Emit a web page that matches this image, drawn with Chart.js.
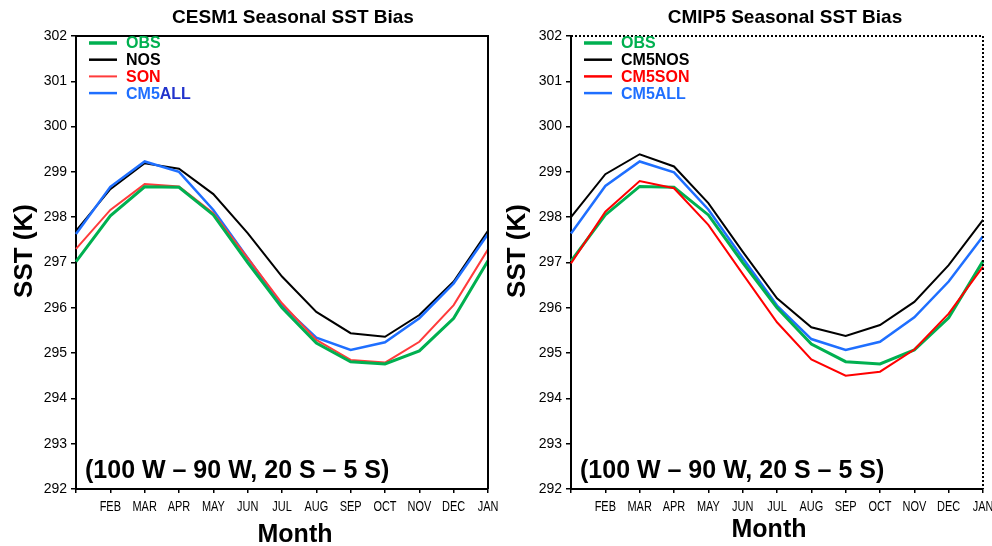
<!DOCTYPE html>
<html>
<head>
<meta charset="utf-8">
<script src="https://cdn.jsdelivr.net/npm/chart.js@4/dist/chart.umd.min.js"></script>
<style>
  html, body { margin: 0; padding: 0; background: #fff; }
  #wrap { position: relative; width: 992px; height: 546px; overflow: hidden; }
  .panel { position: absolute; top: 0; height: 546px; }
  #p1 { left: 0; width: 520px; }
  #p2 { left: 496px; width: 496px; }
</style>
</head>
<body>
<div id="wrap">
  <div class="panel" id="p1"><canvas id="c1" width="520" height="546"></canvas></div>
  <div class="panel" id="p2"><canvas id="c2" width="496" height="546"></canvas></div>
</div>
<script>
// ---- data ----
const months = ['JAN','FEB','MAR','APR','MAY','JUN','JUL','AUG','SEP','OCT','NOV','DEC','JAN'];
const yTicks = [292,293,294,295,296,297,298,299,300,301,302];

const obs      = [297.02, 298.03, 298.67, 298.66, 298.05, 297.00, 296.00, 295.22, 294.81, 294.76, 295.05, 295.77, 297.04];
const cesmNOS  = [297.70, 298.62, 299.19, 299.07, 298.51, 297.65, 296.69, 295.91, 295.44, 295.36, 295.84, 296.58, 297.70];
const cesmSON  = [297.30, 298.16, 298.73, 298.68, 298.09, 297.10, 296.10, 295.29, 294.85, 294.79, 295.25, 296.06, 297.29];
const cesmALL  = [297.63, 298.67, 299.23, 299.00, 298.16, 297.10, 296.05, 295.34, 295.07, 295.24, 295.77, 296.54, 297.63];

const cm5NOS   = [298.00, 298.95, 299.39, 299.12, 298.31, 297.24, 296.21, 295.57, 295.38, 295.62, 296.13, 296.94, 297.94];
const cm5SON   = [296.98, 298.12, 298.80, 298.64, 297.83, 296.75, 295.68, 294.86, 294.50, 294.59, 295.08, 295.87, 296.91];
const cm5ALL   = [297.64, 298.69, 299.23, 298.99, 298.17, 297.10, 296.05, 295.31, 295.07, 295.25, 295.79, 296.58, 297.58];
const obs2     = [297.03, 298.05, 298.68, 298.66, 298.05, 297.00, 296.00, 295.20, 294.81, 294.76, 295.07, 295.78, 297.03];

const GREEN = '#00b050', BLACK = '#000000', RED1 = '#ff3b3b', RED2 = '#ff0000', BLUE = '#1f6fff', DBLUE = '#2233cc';

const FONT = "'Liberation Sans', Arial, Helvetica, sans-serif";

function framePlugin(o) {
  return {
    id: 'customDraw',
    afterDatasetsDraw(chart) {
      const ctx = chart.ctx;
      const a = chart.chartArea;
      const xs = chart.scales.x;
      ctx.save();
      ctx.strokeStyle = '#000';
      ctx.lineWidth = 2;
      // top and right edges
      if (o.dotted) ctx.setLineDash([2, 2]);
      ctx.beginPath();
      ctx.moveTo(a.left, a.top);
      ctx.lineTo(a.right, a.top);
      ctx.lineTo(a.right, a.bottom);
      ctx.stroke();
      ctx.setLineDash([]);
      // legend
      o.legend.forEach((it, i) => {
        const y = 43 + i * 16.7;
        ctx.strokeStyle = it.color;
        ctx.lineWidth = it.lw;
        ctx.beginPath();
        ctx.moveTo(a.left + 13, y);
        ctx.lineTo(a.left + 41, y);
        ctx.stroke();
        ctx.font = 'bold 16px ' + FONT;
        ctx.textBaseline = 'middle';
        ctx.textAlign = 'left';
        let x = a.left + 50;
        it.parts.forEach(p => {
          ctx.fillStyle = p.c;
          ctx.fillText(p.t, x, y + 1);
          x += ctx.measureText(p.t).width;
        });
      });
      // x tick labels (condensed), placed by the category scale
      ctx.fillStyle = '#000';
      ctx.font = '15px ' + FONT;
      ctx.textAlign = 'center';
      ctx.textBaseline = 'alphabetic';
      months.forEach((m, i) => {
        if (i === 0) return;
        const px = xs.getPixelForValue(i);
        ctx.save();
        ctx.translate(px, a.bottom + 22);
        ctx.scale(0.73, 1);
        ctx.fillText(m, 0, 0);
        ctx.restore();
      });
      // region annotation
      ctx.font = 'bold 25px ' + FONT;
      ctx.textAlign = 'left';
      ctx.fillText('(100 W \u2013 90 W, 20 S \u2013 5 S)', a.left + 9, 478);
      // title
      ctx.font = 'bold 19px ' + FONT;
      ctx.textAlign = 'center';
      ctx.textBaseline = 'middle';
      ctx.fillText(o.title, o.titleCx, 18);
      // x title
      ctx.font = 'bold 25px ' + FONT;
      ctx.textBaseline = 'alphabetic';
      ctx.fillText('Month', o.monthCx, o.monthY);
      // y title
      ctx.save();
      ctx.translate(o.sstX, 251);
      ctx.rotate(-Math.PI / 2);
      ctx.font = 'bold 26px ' + FONT;
      ctx.textBaseline = 'middle';
      ctx.fillText('SST (K)', 0, 0);
      ctx.restore();
      ctx.restore();
    }
  };
}

function makeChart(id, sets, opts) {
  const datasets = sets.map(s => ({
    label: s.label,
    data: s.data,
    borderColor: s.color,
    borderWidth: s.lw,
    pointRadius: 0,
    tension: 0,
    fill: false,
    order: s.order
  }));
  return new Chart(document.getElementById(id), {
    type: 'line',
    data: { labels: months, datasets },
    options: {
      responsive: false,
      animation: false,
      layout: { padding: { top: 36, right: opts.padRight, left: 0, bottom: 0 } },
      plugins: { legend: { display: false }, title: { display: false }, tooltip: { enabled: false } },
      scales: {
        x: {
          type: 'category',
          offset: false,
          grid: { drawOnChartArea: false, drawTicks: true, tickLength: 4, color: '#000', lineWidth: 1.5 },
          border: { display: true, color: '#000', width: 2 },
          ticks: { display: false, autoSkip: false, maxRotation: 0 },
          afterFit: s => { s.height = 57; }
        },
        y: {
          min: 292, max: 302,
          afterBuildTicks: s => { s.ticks = yTicks.map(v => ({ value: v })); },
          grid: { drawOnChartArea: false, drawTicks: true, tickLength: 5, color: '#000', lineWidth: 1.5 },
          border: { display: true, color: '#000', width: 2 },
          ticks: { color: '#000', padding: 4, font: { family: FONT, size: 14 } },
          afterFit: s => { s.width = opts.yWidth; }
        }
      }
    },
    plugins: [framePlugin(opts)]
  });
}

makeChart('c1', [
  { label: 'NOS', data: cesmNOS, color: BLACK, lw: 2, order: 4 },
  { label: 'CM5ALL', data: cesmALL, color: BLUE, lw: 2.5, order: 3 },
  { label: 'SON', data: cesmSON, color: RED1, lw: 2, order: 2 },
  { label: 'OBS', data: obs, color: GREEN, lw: 3, order: 1 }
], {
  padRight: 32, yWidth: 76, dotted: false, sstX: 25,
  title: 'CESM1 Seasonal SST Bias', titleCx: 293, monthCx: 295, monthY: 542,
  legend: [
    { color: GREEN, lw: 3.5, parts: [{ t: 'OBS', c: GREEN }] },
    { color: BLACK, lw: 2.5, parts: [{ t: 'NOS', c: BLACK }] },
    { color: RED1, lw: 2, parts: [{ t: 'SON', c: RED2 }] },
    { color: BLUE, lw: 2.5, parts: [{ t: 'CM5', c: BLUE }, { t: 'ALL', c: DBLUE }] }
  ]
});

makeChart('c2', [
  { label: 'CM5NOS', data: cm5NOS, color: BLACK, lw: 2, order: 4 },
  { label: 'CM5ALL', data: cm5ALL, color: BLUE, lw: 2.5, order: 3 },
  { label: 'OBS', data: obs2, color: GREEN, lw: 3, order: 2 },
  { label: 'CM5SON', data: cm5SON, color: RED2, lw: 2, order: 1 }
], {
  padRight: 9, yWidth: 75, dotted: true, sstX: 22,
  title: 'CMIP5 Seasonal SST Bias', titleCx: 289, monthCx: 273, monthY: 537,
  legend: [
    { color: GREEN, lw: 3.5, parts: [{ t: 'OBS', c: GREEN }] },
    { color: BLACK, lw: 2.5, parts: [{ t: 'CM5NOS', c: BLACK }] },
    { color: RED2, lw: 2.5, parts: [{ t: 'CM5SON', c: RED2 }] },
    { color: BLUE, lw: 2.5, parts: [{ t: 'CM5ALL', c: BLUE }] }
  ]
});
</script>
</body>
</html>
